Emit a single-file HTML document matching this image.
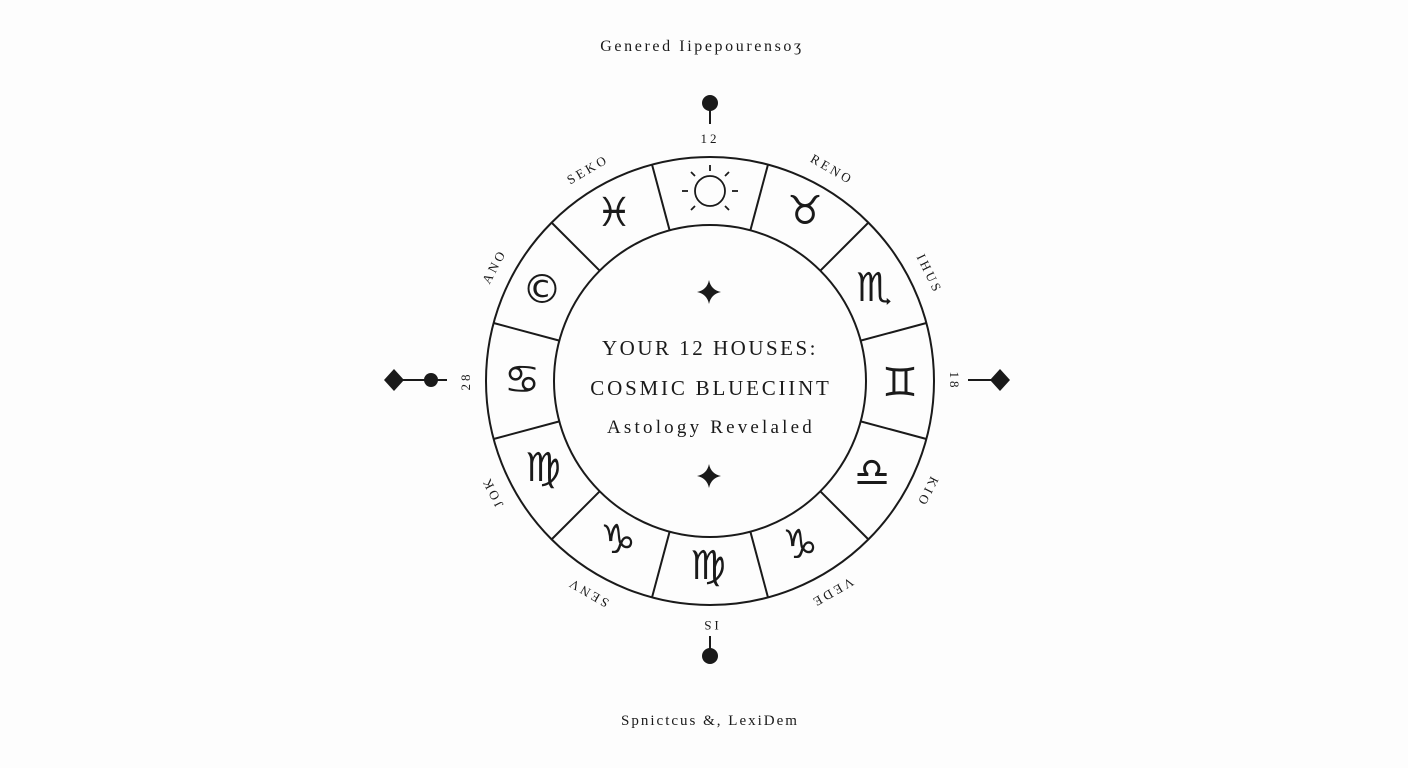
<!DOCTYPE html>
<html><head><meta charset="utf-8"><style>
html,body{margin:0;padding:0;background:#fdfdfd;}
svg{display:block}
text{font-family:"Liberation Serif","DejaVu Serif",serif;fill:#1a1a1a}
.g{font-family:"DejaVu Sans",sans-serif;font-size:40px;text-anchor:middle;dominant-baseline:central}
.l{font-size:13px;letter-spacing:3px;text-anchor:middle}
</style></head><body>
<svg width="1408" height="768" viewBox="0 0 1408 768">
<rect width="1408" height="768" fill="#fdfdfd"/>
<text x="702" y="51" font-size="16" text-anchor="middle" letter-spacing="2.6">Genered Iipepourenso&#658;</text>
<text x="710" y="725" font-size="15" text-anchor="middle" letter-spacing="2">Spnictcus &amp;, LexiDem</text>
<g stroke="#1a1a1a" stroke-width="2" fill="none">
<circle cx="710" cy="381" r="224"/>
<circle cx="710" cy="381" r="156"/>
<g>
<line x1="710" y1="225" x2="710" y2="157" transform="rotate(15 710 381)"/>
<line x1="710" y1="225" x2="710" y2="157" transform="rotate(45 710 381)"/>
<line x1="710" y1="225" x2="710" y2="157" transform="rotate(75 710 381)"/>
<line x1="710" y1="225" x2="710" y2="157" transform="rotate(105 710 381)"/>
<line x1="710" y1="225" x2="710" y2="157" transform="rotate(135 710 381)"/>
<line x1="710" y1="225" x2="710" y2="157" transform="rotate(165 710 381)"/>
<line x1="710" y1="225" x2="710" y2="157" transform="rotate(195 710 381)"/>
<line x1="710" y1="225" x2="710" y2="157" transform="rotate(225 710 381)"/>
<line x1="710" y1="225" x2="710" y2="157" transform="rotate(255 710 381)"/>
<line x1="710" y1="225" x2="710" y2="157" transform="rotate(285 710 381)"/>
<line x1="710" y1="225" x2="710" y2="157" transform="rotate(315 710 381)"/>
<line x1="710" y1="225" x2="710" y2="157" transform="rotate(345 710 381)"/>
</g>
<line x1="710" y1="105" x2="710" y2="124"/>
<line x1="710" y1="636" x2="710" y2="655"/>
<line x1="400" y1="380" x2="447" y2="380"/>
<line x1="968" y1="380" x2="995" y2="380"/>
<circle cx="710" cy="191" r="15" stroke-width="1.8"/>
<g stroke-width="1.8">
<line x1="710" y1="165" x2="710" y2="171"/>
<line x1="682" y1="191" x2="688" y2="191"/><line x1="732" y1="191" x2="738" y2="191"/>
<line x1="691" y1="172" x2="695" y2="176"/><line x1="729" y1="172" x2="725" y2="176"/>
<line x1="691" y1="210" x2="695" y2="206"/><line x1="729" y1="210" x2="725" y2="206"/>
</g>
</g>
<g fill="#1a1a1a">
<circle cx="710" cy="103" r="8"/>
<circle cx="710" cy="656" r="8"/>
<circle cx="431" cy="380" r="7"/>
<path d="M394 369 L404 380 L394 391 L384 380Z"/>
<path d="M1000 369 L1010 380 L1000 391 L990 380Z"/>
<path d="M709 280 Q711 290 721 292 Q711 294 709 304 Q707 294 697 292 Q707 290 709 280Z"/>
<path d="M709 464 Q711 474 721 476 Q711 478 709 488 Q707 478 697 476 Q707 474 709 464Z"/>
</g>
<text class="g" x="805" y="211">&#9801;&#xFE0E;</text>
<text class="g" x="874" y="288">&#9807;&#xFE0E;</text>
<text class="g" x="900" y="383">&#9802;&#xFE0E;</text>
<text class="g" x="872" y="473">&#9806;&#xFE0E;</text>
<text class="g" x="800" y="545">&#9809;&#xFE0E;</text>
<text class="g" x="708" y="566">&#9805;&#xFE0E;</text>
<text class="g" x="618" y="540">&#9809;&#xFE0E;</text>
<text class="g" x="543" y="468">&#9805;&#xFE0E;</text>
<text class="g" x="522" y="380">&#9803;&#xFE0E;</text>
<text class="g" x="542" y="290">&#169;</text>
<text class="g" x="614" y="213">&#9811;&#xFE0E;</text>
<text class="l" x="710" y="143">12</text>
<text class="l" x="710" y="141" transform="rotate(-30 710 381)">SEKO</text>
<text class="l" x="710" y="141" transform="rotate(30 710 381)">RENO</text>
<text class="l" x="710" y="141" transform="rotate(-62 710 381)">ANO</text>
<text class="l" x="710" y="141" transform="rotate(64 710 381)">IHUS</text>
<text class="l" x="710" y="141" transform="rotate(-90 710 381)">28</text>
<text class="l" x="710" y="141" transform="rotate(90 710 381)">18</text>
<text class="l" x="710" y="141" transform="rotate(-117 710 381)">JOK</text>
<text class="l" x="710" y="141" transform="rotate(117 710 381)">KIO</text>
<text class="l" x="710" y="141" transform="rotate(-150 710 381)">SENV</text>
<text class="l" x="710" y="141" transform="rotate(150 710 381)">VEDE</text>
<text class="l" x="710" y="141" transform="rotate(180 710 381)">IS</text>
<text x="710" y="355" font-size="21" text-anchor="middle" letter-spacing="2.5">YOUR 12 HOUSES:</text>
<text x="711" y="395" font-size="21" text-anchor="middle" letter-spacing="2.8">COSMIC BLUECIINT</text>
<text x="711" y="433" font-size="19" text-anchor="middle" letter-spacing="3.2">Astology Revelaled</text>
</svg>
</body></html>
